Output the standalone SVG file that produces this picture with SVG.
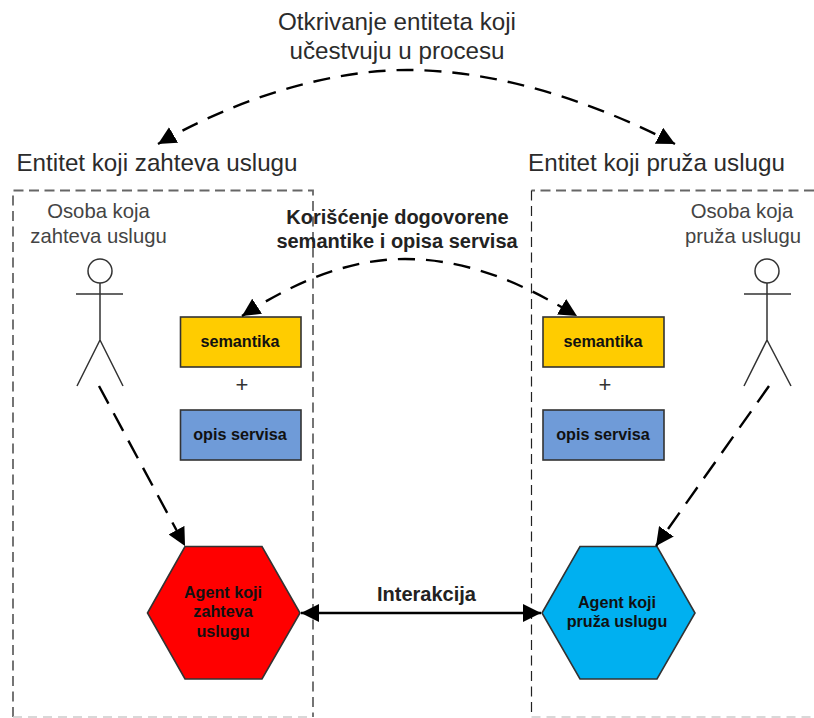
<svg xmlns="http://www.w3.org/2000/svg" width="814" height="718" viewBox="0 0 814 718">
<style>
text{font-family:"Liberation Sans",Arial,sans-serif;text-anchor:middle;fill:#2b2b2b}
.t{font-size:24.200px}
.s{font-size:20.300px;fill:#444}
.p{font-size:22px;fill:#333}
.b{font-size:20px;font-weight:bold;fill:#222}
.n{font-size:16.200px;font-weight:bold;fill:#111}
.box{fill:none;stroke:#666;stroke-width:1.800;stroke-dasharray:10 5.500}
.thin{fill:none;stroke:#222;stroke-width:1.200;stroke-dasharray:10 5.500}
.faint{fill:none;stroke:#ccc;stroke-width:1.500;stroke-dasharray:9 6}
.shape{stroke:#333;stroke-width:1.600}
.fig{fill:none;stroke:#333;stroke-width:1.500}
.dash{fill:none;stroke:#000;stroke-width:2.400;stroke-dasharray:17 11}
.dash2{fill:none;stroke:#000;stroke-width:2.400;stroke-dasharray:20 11}
</style>
<defs>
<marker id="a" markerUnits="userSpaceOnUse" markerWidth="20" markerHeight="18" refX="18" refY="9" orient="auto-start-reverse"><path d="M0 0L18 9L0 18Z" fill="#000"/></marker>
</defs>
<g id="entity-left"><path class="box" d="M13 717V190.500H313V717"/><path class="faint" d="M13 717H313"/><text class="t" x="157" y="171">Entitet koji zahteva uslugu</text></g>
<g id="entity-right"><path class="box" d="M814 190.500H531.500"/><path class="thin" d="M531.500 190.500V717"/><path class="faint" d="M531.500 717H814"/><text class="t" x="656.500" y="171">Entitet koji pruža uslugu</text></g>
<g id="title"><text class="t" x="397" y="30">Otkrivanje entiteta koji</text><text class="t" x="397" y="59">učestvuju u procesu</text></g>
<g id="person-left"><text class="s" x="98.500" y="218">Osoba koja</text><text class="s" x="98.500" y="243">zahteva uslugu</text><circle class="fig" cx="100" cy="271" r="12"/><path class="fig" d="M100 283V340M76 294H123M100 340L77 386M100 340L123 386"/></g>
<g id="person-right"><text class="s" x="742" y="218">Osoba koja</text><text class="s" x="743" y="243">pruža uslugu</text><circle class="fig" cx="767" cy="271" r="12"/><path class="fig" d="M767 283V340M744 294H791M767 340L744 386M767 340L791 386"/></g>
<g id="semantics-left"><rect class="shape" x="180.500" y="317" width="120.500" height="50" fill="#ffcc00"/><text class="n" x="240" y="347">semantika</text></g>
<g id="plus-left"><text class="p" x="242" y="391.500">+</text></g>
<g id="service-left"><rect class="shape" x="180.500" y="410" width="120.500" height="50" fill="#6f9bd8"/><text class="n" x="240" y="440">opis servisa</text></g>
<g id="semantics-right"><rect class="shape" x="543" y="317" width="121" height="50" fill="#ffcc00"/><text class="n" x="603" y="347">semantika</text></g>
<g id="plus-right"><text class="p" x="605" y="391.500">+</text></g>
<g id="service-right"><rect class="shape" x="543" y="410" width="121" height="50" fill="#6f9bd8"/><text class="n" x="603" y="440">opis servisa</text></g>
<g id="agent-left"><path class="shape" d="M147.500 613L185 546.500H262L300 613L262 679H185Z" fill="#ff0000"/><text class="n" x="223" y="598">Agent koji</text><text class="n" x="223" y="617">zahteva</text><text class="n" x="223" y="637">uslugu</text></g>
<g id="agent-right"><path class="shape" d="M542 613L580 546.500H657L695 613L657 679H580Z" fill="#00b0f0"/><text class="n" x="617" y="608">Agent koji</text><text class="n" x="617" y="627">pruža uslugu</text></g>
<g id="connectors">
<path class="dash" d="M158 144C225 105 320 70 407 70C495 70 590 100 675 144" marker-start="url(#a)" marker-end="url(#a)"/>
<path class="dash" d="M242 316C290 285 345 259 405 259C470 259 525 285 577 316" marker-start="url(#a)" marker-end="url(#a)"/>
<path class="dash2" d="M99 386L185 546" marker-end="url(#a)"/>
<path class="dash2" d="M769 386L656 546" marker-end="url(#a)"/>
<path d="M301 613H541" fill="none" stroke="#000" stroke-width="2.400" marker-start="url(#a)" marker-end="url(#a)"/>
</g>
<g id="labels"><text class="b" x="397.500" y="224">Korišćenje dogovorene</text><text class="b" x="397" y="248">semantike i opisa servisa</text><text class="b" x="426.500" y="601">Interakcija</text></g>
</svg>
